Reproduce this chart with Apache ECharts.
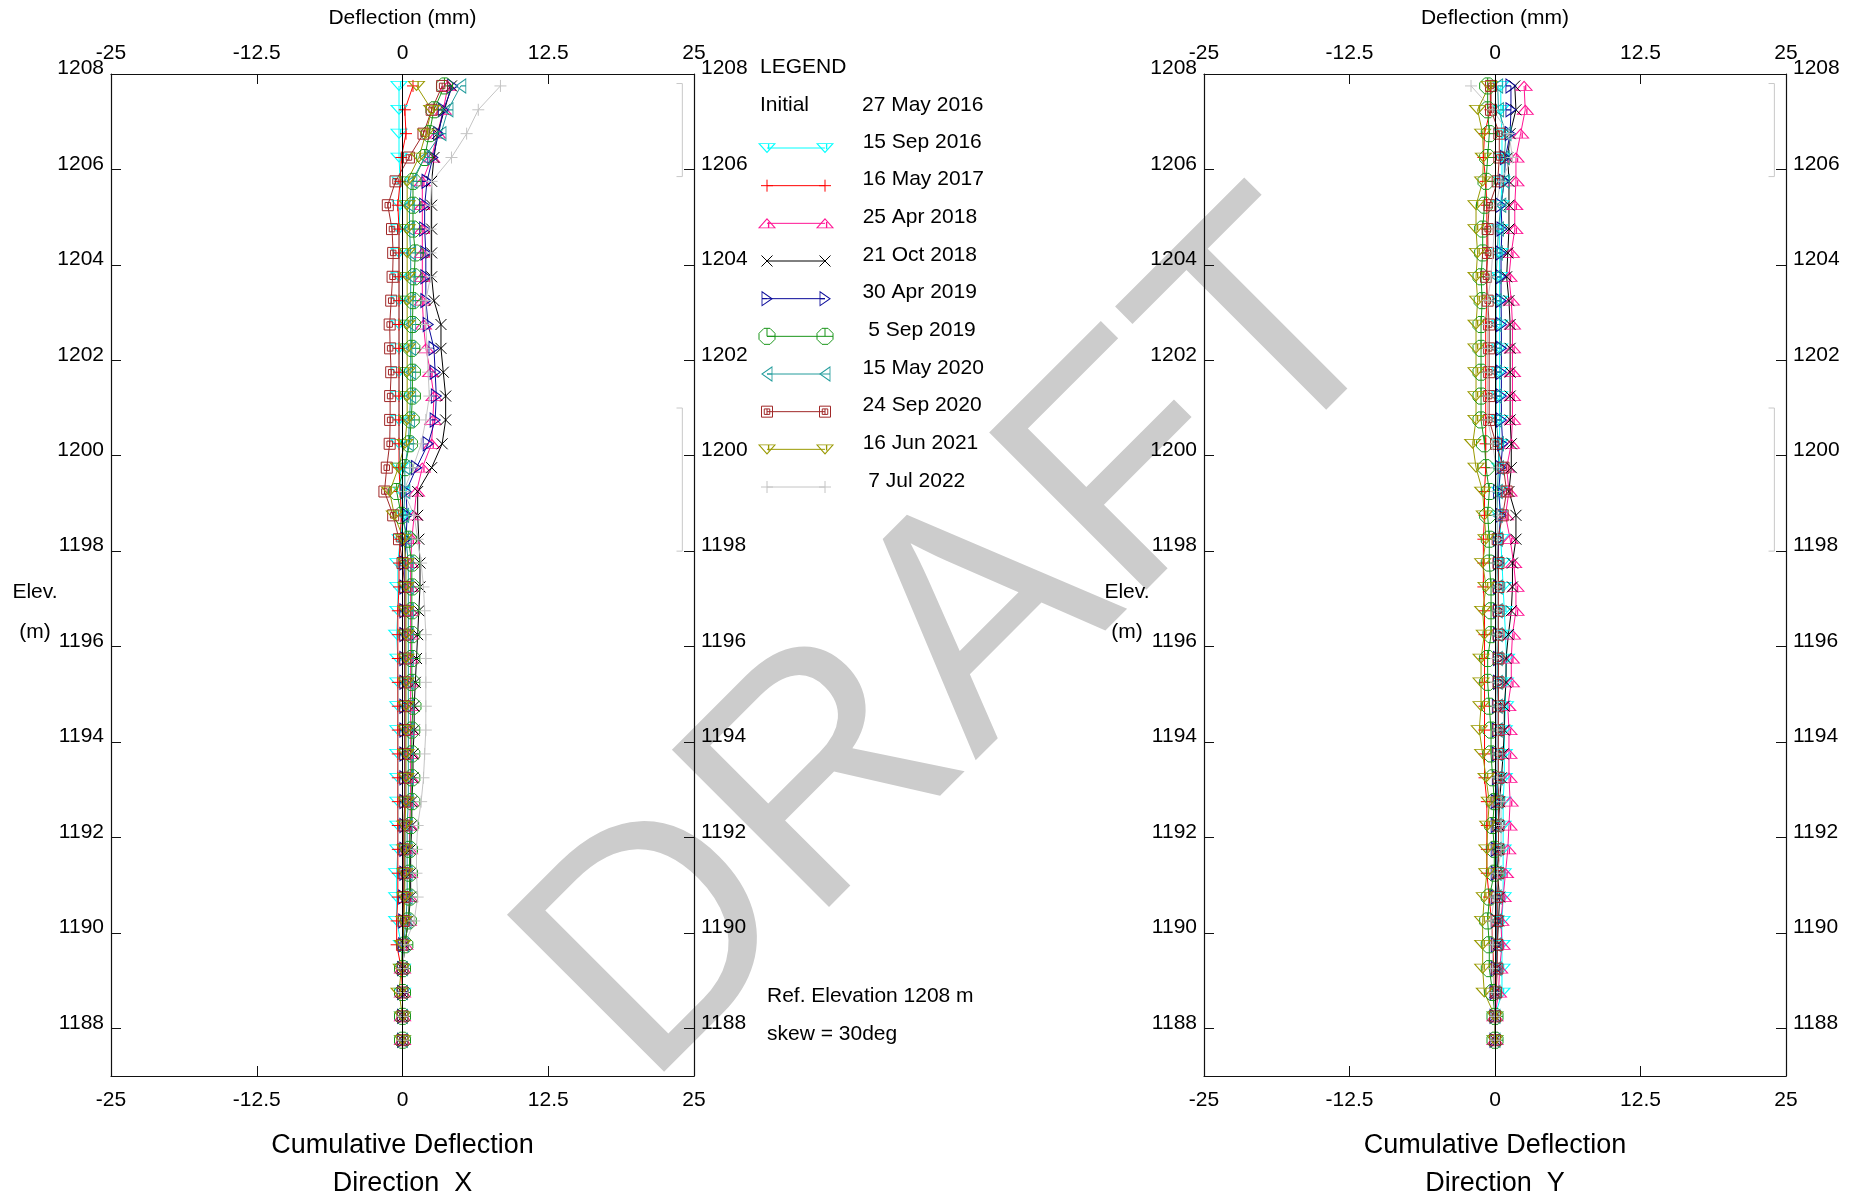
<!DOCTYPE html>
<html><head><meta charset="utf-8">
<script src="https://cdn.jsdelivr.net/npm/echarts@6/dist/echarts.min.js"></script>
<style>html,body{margin:0;padding:0;background:#fff}#c{width:1858px;height:1198px}</style>
</head><body><div id="c"></div>
<script>
// ---------------- DATA ----------------
const elevations = [1207.75,1207.25,1206.75,1206.25,1205.75,1205.25,1204.75,1204.25,1203.75,1203.25,
  1202.75,1202.25,1201.75,1201.25,1200.75,1200.25,1199.75,1199.25,1198.75,1198.25,
  1197.75,1197.25,1196.75,1196.25,1195.75,1195.25,1194.75,1194.25,1193.75,1193.25,
  1192.75,1192.25,1191.75,1191.25,1190.75,1190.25,1189.75,1189.25,1188.75,1188.25,1187.75];
const yTicks = [1188,1190,1192,1194,1196,1198,1200,1202,1204,1206,1208];
const initialDate = '27 May 2016';
const dates = ['15 Sep 2016','16 May 2017','25 Apr 2018','21 Oct 2018','30 Apr 2019','5 Sep 2019','15 May 2020','24 Sep 2020','16 Jun 2021','7 Jul 2022'];

// Direction X (mm)
const x_15Sep2016 = [-0.3,-0.3,-0.3,-0.3,-0.2,-0.2,-0.3,-0.3,-0.3,-0.3,-0.3,-0.3,-0.3,-0.3,-0.3,-0.3,-0.2,-0.1,0.1,-0.2,-0.4,-0.4,-0.4,-0.5,-0.4,-0.4,-0.4,-0.4,-0.4,-0.4,-0.4,-0.4,-0.4,-0.5,-0.5,-0.5,-0.1,0,0,0,0];
const x_16May2017 = [0.9,0.2,0.3,-0.1,-0.2,-0.4,-0.3,-0.3,-0.3,-0.3,-0.3,-0.3,-0.3,-0.3,-0.3,-0.3,-0.3,-0.2,-0.1,-0.2,-0.3,-0.3,-0.4,-0.4,-0.4,-0.4,-0.4,-0.4,-0.4,-0.4,-0.4,-0.4,-0.4,-0.4,-0.4,-0.5,-0.5,-0.1,0,0,0];
const x_25Apr2018 = [3.9,3.5,3.0,2.5,1.7,1.7,1.7,1.7,1.7,1.7,1.8,2.0,2.4,2.7,2.6,2.5,1.7,1.2,1.0,0.8,0.7,0.7,0.7,0.7,0.7,0.7,0.7,0.7,0.7,0.7,0.7,0.6,0.6,0.6,0.6,0.5,0.2,0,0,0,0];
const x_21Oct2018 = [4.2,3.6,3.0,2.7,2.5,2.5,2.5,2.5,2.5,2.7,3.3,3.3,3.5,3.7,3.7,3.4,2.5,1.3,1.3,1.4,1.5,1.5,1.4,1.3,1.2,1.1,1.0,1.0,0.9,0.9,0.8,0.8,0.7,0.7,0.7,0.5,0.2,0,0,0,0];
const x_30Apr2019 = [4.3,3.5,3.1,2.6,2.1,1.9,1.9,2.0,2.0,2.0,2.2,2.7,2.8,2.9,2.8,2.2,1.2,0.3,0.4,0.3,0.2,0.2,0.2,0.2,0.2,0.2,0.2,0.2,0.2,0.2,0.2,0.2,0.2,0.2,0.1,0.1,0.1,0,0,0,0];
const x_5Sep2019  = [3.6,2.7,2.3,1.9,0.9,0.9,0.9,1.1,1.0,0.9,0.85,0.8,0.85,0.85,0.75,0.6,0.2,-0.5,-0.1,0.5,0.8,0.8,0.8,0.8,0.8,0.8,0.9,0.8,0.8,0.8,0.8,0.7,0.6,0.6,0.6,0.5,0.2,0,0,0,0];
const x_15May2020 = [5.0,3.9,3.3,1.9,0.8,0.6,0.6,0.7,0.7,0.7,0.7,0.7,0.7,0.7,0.6,0.5,0.2,0.2,0.1,0.3,0.5,0.5,0.5,0.5,0.5,0.5,0.5,0.5,0.5,0.5,0.5,0.4,0.4,0.4,0.4,0.3,0.1,0,0,0,0];
const x_24Sep2020 = [3.4,2.5,1.8,0.55,-0.6,-1.26,-0.9,-0.8,-0.85,-0.97,-1.1,-1.06,-0.97,-1.06,-1.06,-1.1,-1.35,-1.55,-0.8,-0.3,0.0,0.2,0.2,0.2,0.2,0.2,0.2,0.2,0.2,0.2,0.2,0.1,0.1,0.1,0.1,0.1,0,0,0,0,0];
const x_16Jun2021 = [1.2,2.5,2.0,1.4,0.4,0.4,0.4,0.4,0.4,0.4,0.4,0.4,0.4,0.4,0.4,0.2,-0.35,-1.1,-0.7,0.1,0.3,0.3,0.3,0.3,0.3,0.3,0.3,0.3,0.3,0.3,0.3,0.2,0.2,0.2,0.2,0.1,0,-0.1,-0.3,0,0];
const x_7Jul2022  = [8.4,6.5,5.5,4.2,2.5,2.4,2.4,2.4,2.4,2.0,2.0,2.1,2.2,2.3,2.0,1.6,0.9,0.1,1.0,1.3,1.6,1.8,1.9,2.0,2.0,2.0,2.0,2.0,1.9,1.8,1.6,1.3,1.2,1.2,1.3,1.0,0.2,0,0,0,0];

// Direction Y (mm)
const y_15Sep2016 = [0.5,0.5,0.6,0.6,0.6,0.5,0.4,0.4,0.4,0.4,0.4,0.4,0.4,0.4,0.4,0.4,0.4,0.4,0.4,0.5,0.6,0.7,0.8,0.9,1.0,0.9,0.9,0.8,0.8,0.8,0.7,0.7,0.7,0.7,0.7,0.6,0.6,0.6,0.6,0,0];
const y_16May2017 = [-0.4,-0.4,-0.9,-1.0,-0.8,-0.7,-0.7,-0.7,-0.7,-0.7,-0.8,-0.8,-0.8,-0.8,-0.8,-0.8,-0.8,-0.9,-0.9,-1.0,-1.0,-1.0,-0.9,-0.9,-0.9,-0.9,-0.9,-0.9,-0.9,-0.9,-0.7,-0.7,-0.7,-0.7,-0.5,-0.3,-0.2,-0.1,-0.1,0,0];
const y_25Apr2018 = [2.5,2.6,2.2,1.8,1.8,1.7,1.7,1.4,1.2,1.4,1.5,1.5,1.5,1.5,1.5,1.4,1.0,1.2,0.9,1.3,1.6,1.8,1.8,1.5,1.4,1.4,1.1,1.2,1.2,1.2,1.3,1.2,1.1,0.9,0.7,0.5,0.6,0.4,0.3,0,0];
const y_21Oct2018 = [1.7,1.8,1.3,1.1,1.2,1.2,1.2,1.1,1.0,1.2,1.3,1.3,1.3,1.3,1.3,1.4,1.4,1.2,1.8,1.8,1.5,1.5,1.4,1.15,0.95,0.95,0.8,0.8,0.7,0.55,0.4,0.3,0.3,0.2,0.4,0.3,0.2,0.1,0,0,0];
const y_30Apr2019 = [1.37,1.37,1.3,0.9,0.8,0.52,0.6,0.52,0.52,0.52,0.55,0.55,0.55,0.55,0.55,0.66,0.5,0.3,0.5,0.3,0.3,0.3,0.3,0.3,0.3,0.3,0.2,0.2,0.2,0.2,0.1,0.1,0.1,0.1,0.1,0.1,0.1,0.1,0,0,0];
const y_5Sep2019  = [-0.63,-0.63,-0.49,-0.63,-0.77,-0.9,-1.06,-1.06,-1.2,-1.1,-1.2,-1.2,-1.2,-1.2,-1.2,-0.9,-0.77,-0.49,-0.63,-0.49,-0.49,-0.34,-0.34,-0.34,-0.63,-0.63,-0.49,-0.34,-0.34,-0.2,-0.06,-0.2,-0.06,-0.06,-0.49,-0.63,-0.49,-0.49,-0.2,0,0];
const y_15May2020 = [0.23,0.3,0.95,0.8,0.8,0.5,0.3,0.2,0.1,0.1,0.1,0.1,0.1,0.1,0.1,0.3,0.3,0.2,0.2,0.2,0.2,0.2,0.2,0.2,0.2,0.2,0.2,0.2,0.2,0.2,0.2,0.1,0.1,0.1,0.1,0.1,0.1,0.1,0,0,0];
const y_24Sep2020 = [-0.34,-0.34,0.37,0.37,0.23,-0.49,-0.63,-0.6,-0.77,-0.63,-0.5,-0.5,-0.5,-0.5,-0.5,0.09,0.73,1.0,0.66,0.23,0.3,0.3,0.3,0.3,0.3,0.3,0.3,0.3,0.3,0.3,0.3,0.3,0.3,0.3,0.2,0.2,0.2,0.2,0.1,0,0];
const y_16Jun2021 = [-0.5,-1.5,-1.06,-1.0,-1.06,-1.63,-1.63,-1.5,-1.63,-1.49,-1.63,-1.63,-1.63,-1.63,-1.63,-1.92,-1.63,-1.06,-0.92,-0.77,-1.06,-0.77,-1.06,-0.92,-1.2,-1.2,-1.2,-1.35,-1.06,-0.77,-0.49,-0.63,-0.7,-0.7,-0.92,-1.06,-1.06,-1.06,-0.92,0,0];
const y_7Jul2022  = [-2.06,-0.2,1.2,1.5,0.5,0.1,-0.06,-0.2,-0.34,-0.63,-0.63,-0.63,-0.63,-0.63,-0.63,-0.2,0.09,0.09,0.23,0.23,0.09,0.23,0.23,0.23,0.09,0.09,0.23,0.23,0.23,0.23,0.52,0.52,0.52,0.23,-0.06,-0.34,-0.2,-0.2,-0.06,0,0];

// zone brackets (elevation ranges)
const bracketZones = [[1207.8,1205.85],[1201.0,1198.0]];

// ---------------- STYLE ----------------
const FONT = 'Liberation Sans, Arial, sans-serif';
const xSets = [x_15Sep2016,x_16May2017,x_25Apr2018,x_21Oct2018,x_30Apr2019,x_5Sep2019,x_15May2020,x_24Sep2020,x_16Jun2021,x_7Jul2022];
const ySets = [y_15Sep2016,y_16May2017,y_25Apr2018,y_21Oct2018,y_30Apr2019,y_5Sep2019,y_15May2020,y_24Sep2020,y_16Jun2021,y_7Jul2022];
const TRI_DOWN = 'path://M0,0L20,0L10,11ZM12,0L12,7';
const PLUS = 'path://M0,6L12,6M6,0L6,12';
const TRI_UP = 'path://M10,0L20,11L0,11ZM12,4L12,11';
const CROSS = 'path://M0,0L12,12M12,0L0,12';
const TRI_RIGHT = 'path://M0,0L10,7L0,14ZM0,7L5,7';
const OCT = 'path://M5,0L11,0L16,5L16,11L11,16L5,16L0,11L0,5ZM8,0L8,8L16,8';
const TRI_LEFT = 'path://M10,0L10,14L0,7ZM10,7L5,7';
const SQ = 'path://M0,0L12,0L12,12L0,12ZM3,3L9,3L9,9L3,9ZM6,3L6,9';
const styles = [
  {color:'#00ffff', symbol:TRI_DOWN, size:[16,9]},
  {color:'#ff0000', symbol:PLUS, size:[12,12]},
  {color:'#ff1493', symbol:TRI_UP, size:[16,9]},
  {color:'#000000', symbol:CROSS, size:[11,11]},
  {color:'#0a0a9a', symbol:TRI_RIGHT, size:[10,14]},
  {color:'#1a961a', symbol:OCT, size:[16,16]},
  {color:'#239c9c', symbol:TRI_LEFT, size:[10,14]},
  {color:'#a02828', symbol:SQ, size:[11,11]},
  {color:'#999900', symbol:TRI_DOWN, size:[16,9]},
  {color:'#c4c4c4', symbol:PLUS, size:[12,12]}
];

function xAxisCfg(grid, pos, name, nameGap, nameStyle, margin){
  return {type:'value', gridIndex:grid, position:pos, min:-25, max:25, interval:12.5,
    name:name, nameLocation:'middle', nameGap:nameGap, nameTextStyle:nameStyle,
    axisLine:{show:true, onZero:false, lineStyle:{color:'#111', width:1.2}},
    axisTick:{show:true, inside:true, length:10, lineStyle:{color:'#111'}},
    axisLabel:{show:true, margin:margin, fontSize:21, color:'#000', fontFamily:FONT},
    splitLine:{show:false}};
}
function yAxisCfg(grid, pos){
  return {type:'value', gridIndex:grid, position:pos, min:1187, max:1208,
    axisLine:{show:true, onZero:false, lineStyle:{color:'#111', width:1.2}},
    axisTick:{show:true, inside:true, length:10, customValues:yTicks, lineStyle:{color:'#111'}},
    axisLabel:{show:true, margin:7, fontSize:21, color:'#000', fontFamily:FONT, customValues:yTicks,
      verticalAlign:'bottom', lineHeight:11, formatter:(v) => String(v)},
    splitLine:{show:false}};
}
const topName = {fontSize:21, color:'#000', fontFamily:FONT};
const botName = {fontSize:27, lineHeight:38, color:'#000', fontFamily:FONT};

const series = [];
[xSets, ySets].forEach((sets, g) => {
  sets.forEach((vals, k) => {
    const st = styles[k];
    series.push({type:'line', name:dates[k], xAxisIndex:g*2, yAxisIndex:g*2,
      data: vals.map((v,i) => [v, elevations[i]]),
      symbol:st.symbol, symbolSize:st.size, showAllSymbol:true,
      itemStyle:{color:'rgba(0,0,0,0)', borderColor:st.color, borderWidth:1},
      lineStyle:{color:st.color, width:1}, silent:true, clip:false, z:3,
      emphasis:{disabled:true}});
  });
  bracketZones.forEach((z, bi) => {
    const s = {type:'line', xAxisIndex:g*2, yAxisIndex:g*2, silent:true, symbol:'none',
      data:[[23.5,z[0]],[24,z[0]],[24,z[1]],[23.5,z[1]]],
      lineStyle:{color:'#c8c8c8', width:1}, z:2};
    if (bi === 0) {
      s.markLine = {silent:true, symbol:['none','none'], label:{show:false},
        lineStyle:{color:'#000', width:1, type:'solid'}, data:[{xAxis:0}], animation:false};
    }
    series.push(s);
  });
});
// legend samples
dates.forEach((d, k) => {
  const st = styles[k];
  const lbl = (d.split(' ')[0].length === 1 ? ' ' : '') + d;
  series.push({type:'line', xAxisIndex:4, yAxisIndex:4, silent:true, clip:false,
    data:[[0,k], {value:[1,k], label:{show:true, position:'right', distance:37 - st.size[0]/2, offset:[0,-6],
      formatter:lbl, fontSize:21, color:'#000', fontFamily:FONT}}],
    symbol:st.symbol, symbolSize:st.size,
    itemStyle:{color:'rgba(0,0,0,0)', borderColor:st.color, borderWidth:1},
    lineStyle:{color:st.color, width:1}});
});

function txt(x, y, t, align, size, extra){
  return Object.assign({type:'text', x:x, y:y, silent:true,
    style:{text:t, fontSize:size||21, fontFamily:FONT, fill:'#000', align:align||'left', verticalAlign:'middle'}}, extra||{});
}

const option = {
  animation:false,
  textStyle:{fontFamily:FONT},
  grid:[
    {left:111, top:74, width:583, height:1002, outerBoundsMode:'none'},
    {left:1204, top:74, width:582, height:1002, outerBoundsMode:'none'},
    {left:767, top:148, width:58, height:339, outerBoundsMode:'none'}
  ],
  xAxis:[
    xAxisCfg(0,'bottom','Cumulative Deflection\nDirection  X',51,botName,14),
    xAxisCfg(0,'top','Deflection (mm)',45,topName,10),
    xAxisCfg(1,'bottom','Cumulative Deflection\nDirection  Y',51,botName,14),
    xAxisCfg(1,'top','Deflection (mm)',45,topName,10),
    {type:'value', gridIndex:2, min:0, max:1, show:false}
  ],
  yAxis:[
    yAxisCfg(0,'left'), yAxisCfg(0,'right'), yAxisCfg(1,'left'), yAxisCfg(1,'right'),
    {type:'value', gridIndex:2, min:0, max:9, inverse:true, show:false}
  ],
  series:series,
  graphic:[
    {type:'text', x:963, y:647, rotation:45*Math.PI/180, silent:true, z:-10,
      style:{text:'DRAFT', fontSize:323, fontFamily:FONT, fill:'#cccccc', align:'center', verticalAlign:'middle'}},
    txt(760,67,'LEGEND'),
    txt(760,105,'Initial'),
    txt(862,105,initialDate),
    txt(767,996,'Ref. Elevation 1208 m'),
    txt(767,1034,'skew = 30deg'),
    txt(35,592,'Elev.','center'),
    txt(35,632,'(m)','center'),
    txt(1127,592,'Elev.','center'),
    txt(1127,632,'(m)','center')
  ]
};
const chart = echarts.init(document.getElementById('c'), null, {renderer:'canvas'});
chart.setOption(option);
</script>
</body></html>
